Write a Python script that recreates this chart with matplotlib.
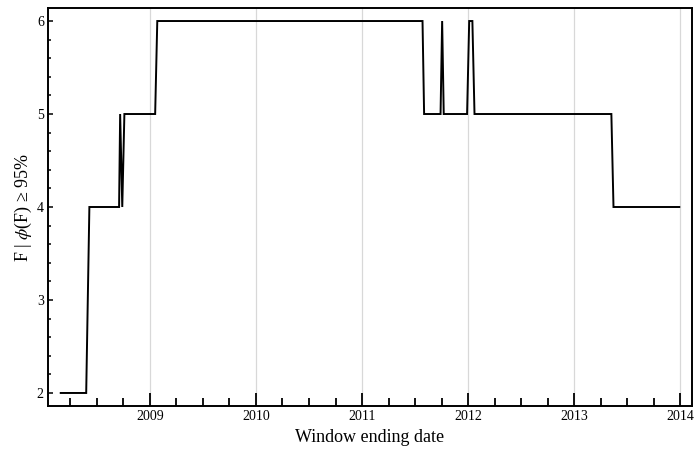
import numpy as np
import matplotlib.pyplot as plt
from matplotlib.ticker import MultipleLocator, FormatStrFormatter

plt.rcParams['font.family'] = ['Liberation Serif', 'DejaVu Serif']
plt.rcParams['mathtext.fontset'] = 'stix'

# window ending date (decimal year) and F with phi(F) >= 95%
dates = [2008.16, 2008.40, 2008.43, 2008.71, 2008.72, 2008.74, 2008.76,
         2009.05, 2009.07, 2011.57, 2011.585, 2011.74, 2011.755, 2011.77,
         2011.99, 2012.01, 2012.04, 2012.06, 2013.35, 2013.37, 2013.99]
values = [2, 2, 4, 4, 5, 4, 5,
          5, 6, 6, 5, 5, 6, 5,
          5, 6, 6, 5, 5, 4, 4]

fig = plt.figure(figsize=(6.94, 4.54), dpi=100)
ax = fig.add_axes([48 / 694, 48 / 454, 644 / 694, 398 / 454])

ax.plot(dates, values, color='black', lw=1.4, solid_joinstyle='miter')

ax.set_xlim(2008.04, 2014.11)
ax.set_ylim(1.86, 6.14)

ax.xaxis.set_major_locator(MultipleLocator(1))
ax.xaxis.set_minor_locator(MultipleLocator(0.25))
ax.xaxis.set_major_formatter(FormatStrFormatter('%d'))
ax.yaxis.set_major_locator(MultipleLocator(1))
ax.yaxis.set_minor_locator(MultipleLocator(0.2))

ax.grid(axis='x', which='major', color='#d8d8d8', lw=0.9)
ax.set_axisbelow(True)

ax.tick_params(axis='x', which='major', direction='in', length=9.5, width=1.3,
               top=False, labelsize=10, pad=3)
ax.tick_params(axis='x', which='minor', direction='in', length=5.8, width=1.3, top=False)
ax.tick_params(axis='y', which='major', direction='in', length=3.5, width=1.1,
               right=False, labelsize=10, pad=3)
ax.tick_params(axis='y', which='minor', direction='in', length=2.5, width=1.1, right=False)

for s in ax.spines.values():
    s.set_linewidth(1.4)

ax.set_xlabel('Window ending date', fontsize=13, labelpad=4)
ax.set_ylabel(r'F | $\phi$(F) ≥ 95%', fontsize=13, labelpad=2)

fig.savefig('out.png', dpi=100)
